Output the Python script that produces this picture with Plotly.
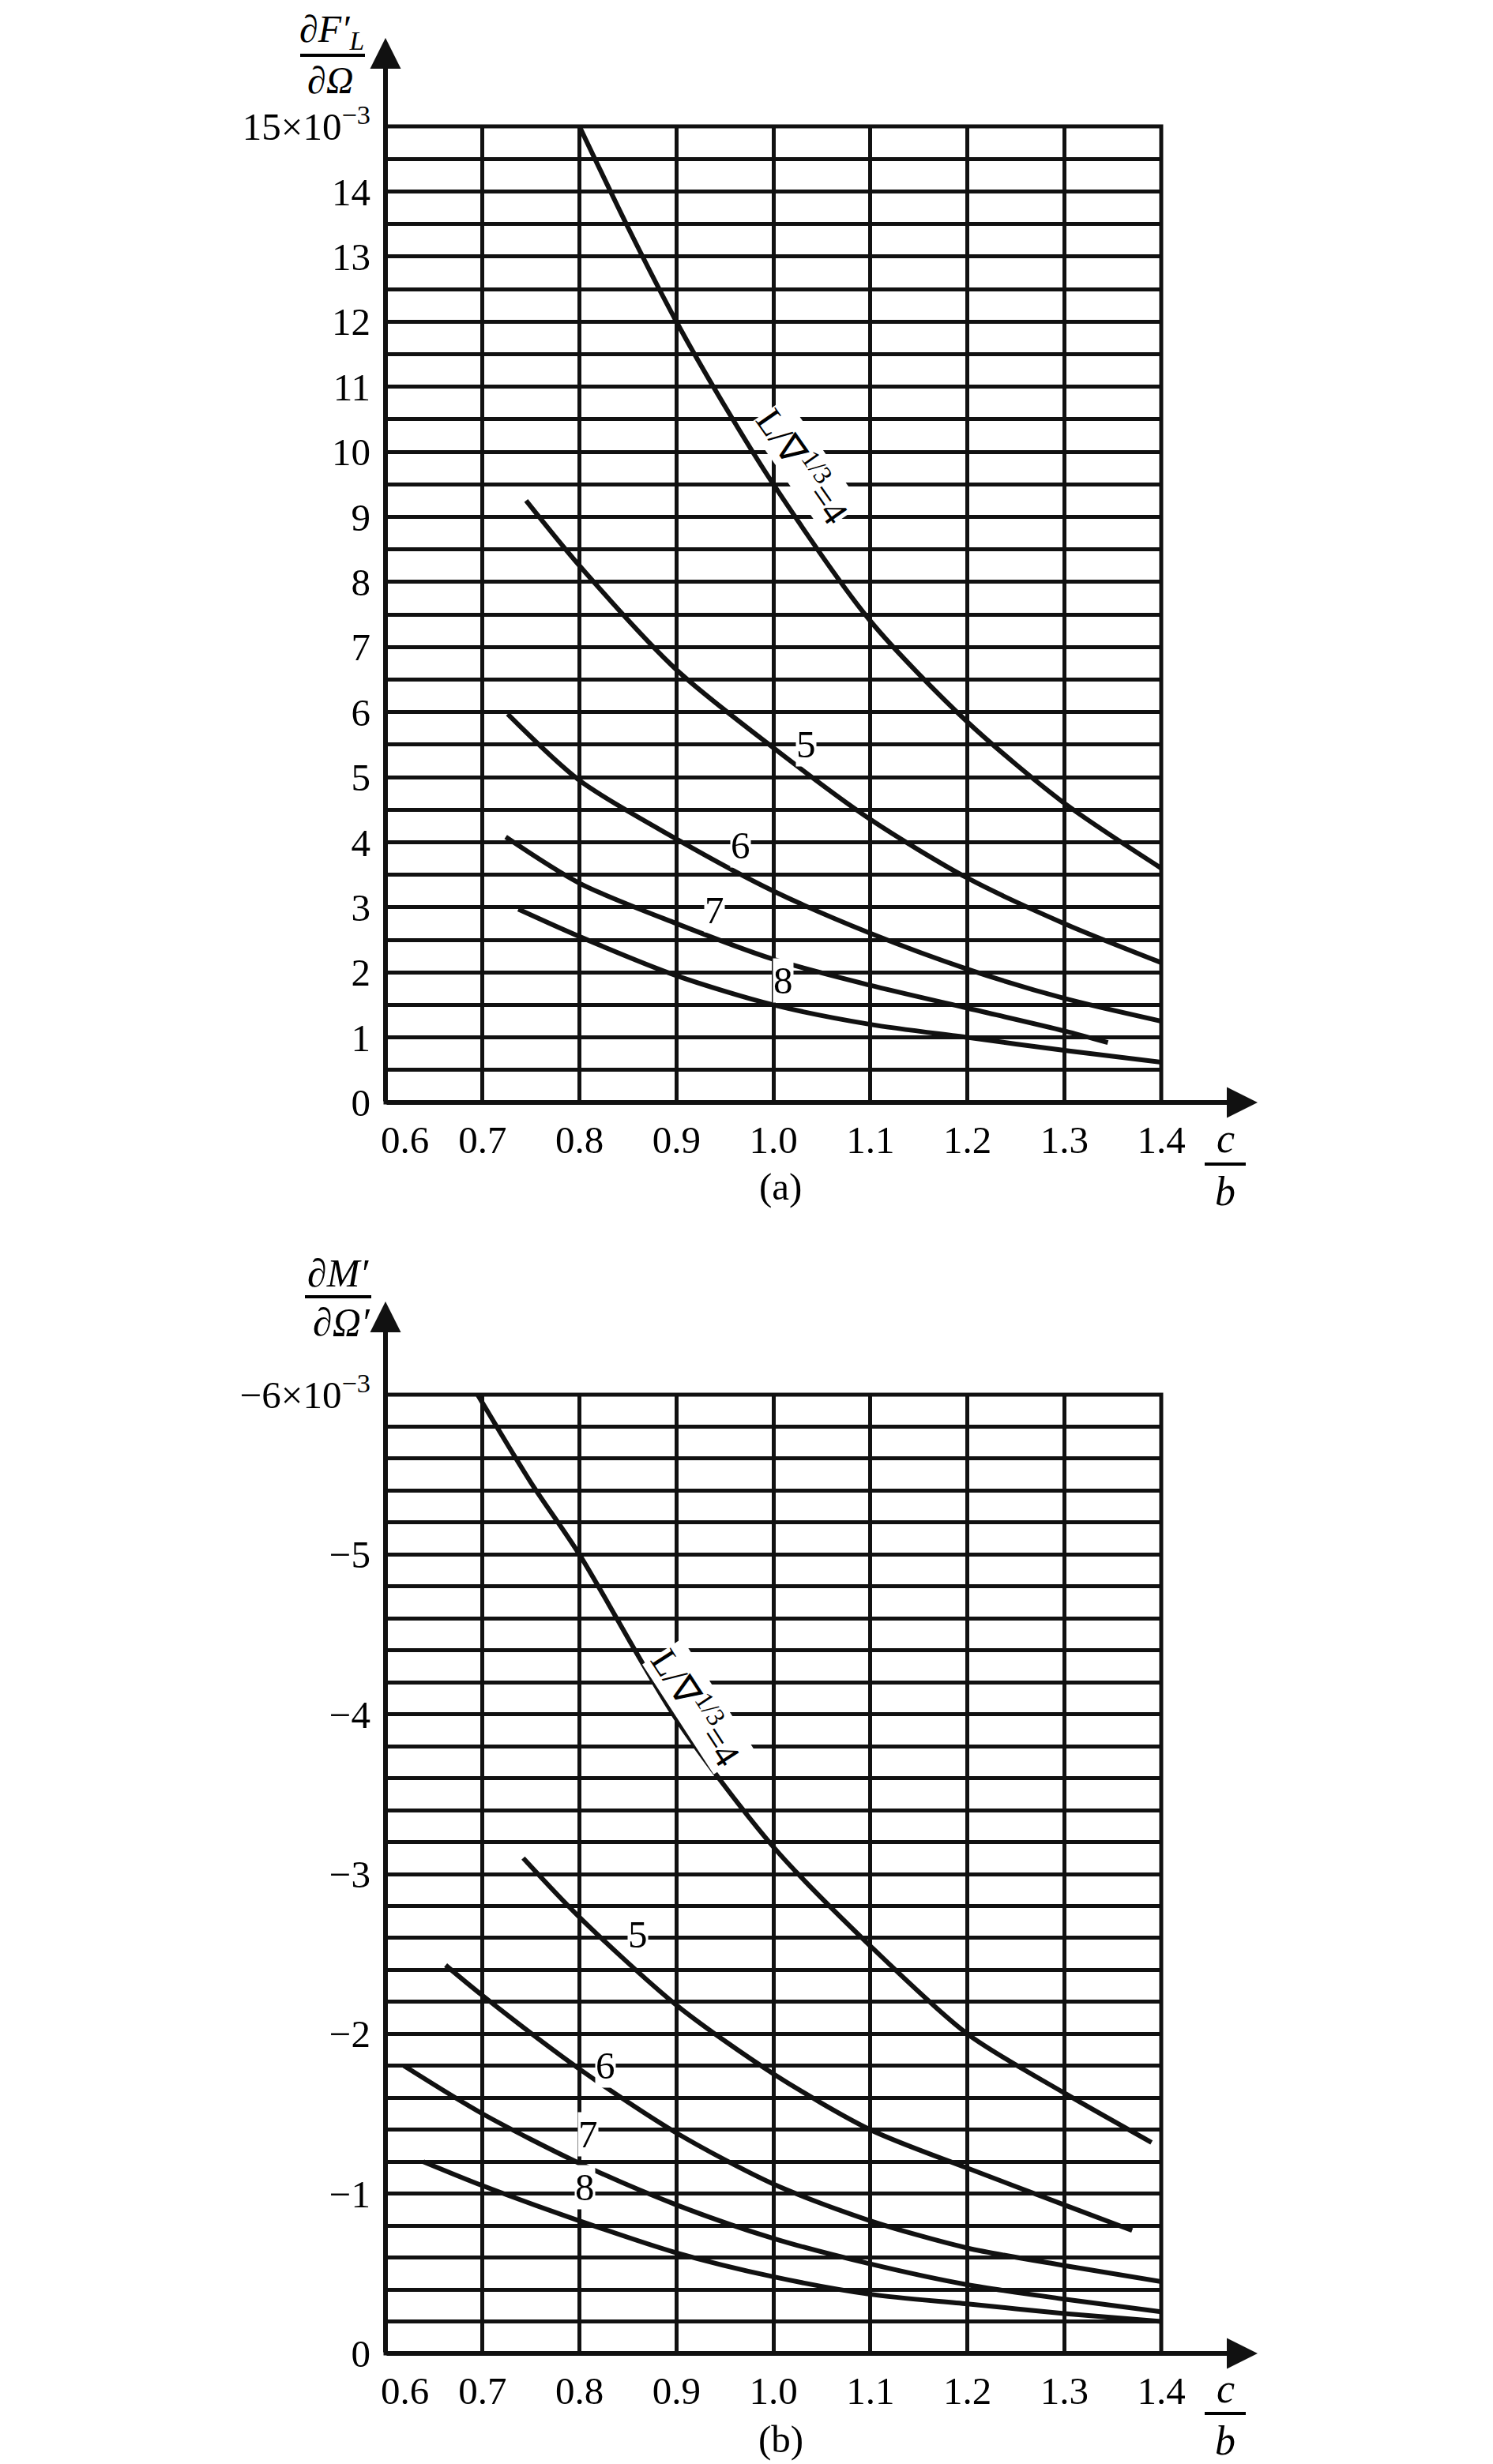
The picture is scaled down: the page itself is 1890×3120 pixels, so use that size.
import plotly.graph_objects as go

# ---------------- data ----------------
x_ticks = [0.6, 0.7, 0.8, 0.9, 1.0, 1.1, 1.2, 1.3, 1.4]
x_ticktext = ["\u2002\u20020.6", "0.7", "0.8", "0.9", "1.0", "1.1", "1.2", "1.3", "1.4"]

a_ticks = [15, 14, 13, 12, 11, 10, 9, 8, 7, 6, 5, 4, 3, 2, 1, 0]
a_ticktext = ["15×10<sup>−3</sup>", "14", "13", "12", "11", "10", "9", "8", "7", "6", "5", "4", "3", "2", "1", "0"]
b_ticks = [-6, -5, -4, -3, -2, -1, 0]
b_ticktext = ["−6×10<sup>−3</sup>", "−5", "−4", "−3", "−2", "−1", "0"]

# panel (a): dF'_L / dOmega
a_x4 = [0.80, 0.85, 0.90, 0.95, 1.00, 1.10, 1.20, 1.30, 1.40]
a_y4 = [15.0, 13.45, 12.0, 10.7, 9.5, 7.4, 5.85, 4.6, 3.6]
a_x5 = [0.745, 0.80, 0.90, 1.00, 1.10, 1.20, 1.30, 1.40]
a_y5 = [9.25, 8.25, 6.65, 5.45, 4.35, 3.45, 2.75, 2.15]
a_x6 = [0.726, 0.80, 0.90, 1.00, 1.10, 1.20, 1.30, 1.40]
a_y6 = [5.97, 4.95, 4.05, 3.25, 2.6, 2.05, 1.6, 1.25]
a_x7 = [0.724, 0.80, 0.90, 1.00, 1.10, 1.20, 1.30, 1.345]
a_y7 = [4.08, 3.37, 2.75, 2.2, 1.8, 1.45, 1.1, 0.92]
a_x8 = [0.737, 0.80, 0.90, 1.00, 1.10, 1.20, 1.30, 1.40]
a_y8 = [2.97, 2.55, 1.95, 1.5, 1.2, 1.0, 0.8, 0.62]

# panel (b): dM' / dOmega'
b_x4 = [0.695, 0.75, 0.80, 0.90, 1.00, 1.10, 1.20, 1.30, 1.39]
b_y4 = [-6.0, -5.45, -5.0, -3.97, -3.17, -2.55, -2.0, -1.63, -1.32]
b_x5 = [0.742, 0.80, 0.90, 1.00, 1.10, 1.20, 1.30, 1.37]
b_y5 = [-3.1, -2.73, -2.18, -1.75, -1.4, -1.16, -0.93, -0.77]
b_x6 = [0.662, 0.70, 0.80, 0.90, 1.00, 1.10, 1.20, 1.30, 1.40]
b_y6 = [-2.43, -2.24, -1.78, -1.38, -1.06, -0.83, -0.66, -0.55, -0.45]
b_x7 = [0.619, 0.70, 0.80, 0.90, 1.00, 1.10, 1.20, 1.30, 1.40]
b_y7 = [-1.8, -1.5, -1.19, -0.93, -0.72, -0.56, -0.43, -0.34, -0.26]
b_x8 = [0.639, 0.70, 0.80, 0.90, 1.00, 1.10, 1.20, 1.30, 1.40]
b_y8 = [-1.2, -1.05, -0.83, -0.63, -0.48, -0.37, -0.31, -0.25, -0.2]

curve_names = ["4", "5", "6", "7", "8"]
a_label_x = [1.032, 1.034, 0.966, 0.939, 1.01]
a_label_y = [9.8, 5.5, 3.95, 2.96, 1.87]
b_label_x = [0.922, 0.86, 0.827, 0.809, 0.806]
b_label_y = [-4.05, -2.62, -1.8, -1.37, -1.04]
big_label = "L/∇<sup>1/3</sup>=4"

# ---------------- layout geometry ----------------
W, H = 1890, 3120
XL, XR = 480, 1462
A_TOP, A_BOT = 152, 1388
B_TOP, B_BOT = 1758, 2972
FONT = "Liberation Serif"
INK = "#111111"

fig = go.Figure()

series_a = [(a_x4, a_y4), (a_x5, a_y5), (a_x6, a_y6), (a_x7, a_y7), (a_x8, a_y8)]
series_b = [(b_x4, b_y4), (b_x5, b_y5), (b_x6, b_y6), (b_x7, b_y7), (b_x8, b_y8)]
for name, (xs, ys) in zip(curve_names, series_a):
    fig.add_trace(go.Scatter(x=xs, y=ys, mode="lines", name=name, xaxis="x", yaxis="y",
                             line=dict(color=INK, width=6, shape="spline", smoothing=0.8),
                             showlegend=False))
for name, (xs, ys) in zip(curve_names, series_b):
    fig.add_trace(go.Scatter(x=xs, y=ys, mode="lines", name=name, xaxis="x2", yaxis="y2",
                             line=dict(color=INK, width=6, shape="spline", smoothing=0.8),
                             showlegend=False))

xdom = [XL / W, XR / W]
ydom_a = [1 - A_BOT / H, 1 - A_TOP / H]
ydom_b = [1 - B_BOT / H, 1 - B_TOP / H]

tickfont = dict(family=FONT, size=49, color="black")
common_x = dict(range=[0.6, 1.4], tickvals=x_ticks, ticktext=x_ticktext, showgrid=True,
                gridcolor=INK, gridwidth=5, zeroline=False, showline=False, ticks="",
                tickfont=tickfont, ticklabelstandoff=14, fixedrange=True, automargin=False)
a_grid = [v / 2 for v in range(0, 31)]
b_grid = [-v / 5 for v in range(0, 31)]
a_text = [a_ticktext[a_ticks.index(v)] if v in a_ticks else "" for v in a_grid]
b_text = [b_ticktext[b_ticks.index(round(v))] if abs(v - round(v)) < 1e-9 else "" for v in b_grid]

fig.update_layout(
    template="none",
    width=W, height=H, margin=dict(l=0, r=0, t=0, b=0, pad=0), autosize=False,
    paper_bgcolor="white", plot_bgcolor="white", showlegend=False,
    xaxis=dict(domain=xdom, anchor="y", **common_x),
    xaxis2=dict(domain=xdom, anchor="y2", **common_x),
    yaxis=dict(domain=ydom_a, anchor="x", range=[0, 15], tickvals=a_grid, ticktext=a_text,
               showgrid=True, gridcolor=INK, gridwidth=5, zeroline=False, showline=False,
               ticks="", tickfont=tickfont, ticklabelstandoff=18, automargin=False, fixedrange=True),
    yaxis2=dict(domain=ydom_b, anchor="x2", range=[0, -6], tickvals=b_grid, ticktext=b_text,
                showgrid=True, gridcolor=INK, gridwidth=5, zeroline=False, showline=False,
                ticks="", tickfont=tickfont, ticklabelstandoff=18, automargin=False, fixedrange=True),
)

shapes = []
annotations = []
for xr, yr in [("x", "y"), ("x2", "y2")]:
    shapes.append(dict(type="rect", xref=xr + " domain", yref=yr + " domain", x0=0, x1=1, y0=0, y1=1,
                       line=dict(color=INK, width=5)))

# axis arrows (decoration)
def axis_arrows(xr, yr, top, bot, tip_y):
    plot_w = XR - XL
    plot_h = bot - top
    x_tip = 1584
    annotations.append(dict(xref=xr + " domain", yref=yr + " domain", x=(x_tip - XL) / plot_w, y=0,
                            ax=-(x_tip - XL), ay=0, showarrow=True, arrowhead=2, arrowsize=1.3,
                            arrowwidth=6, arrowcolor=INK, text="", standoff=0))
    annotations.append(dict(xref=xr + " domain", yref=yr + " domain", x=0, y=(bot - tip_y) / plot_h,
                            ax=0, ay=(bot - tip_y), showarrow=True, arrowhead=2, arrowsize=1.3,
                            arrowwidth=6, arrowcolor=INK, text="", standoff=0))

axis_arrows("x", "y", A_TOP, A_BOT, 40)
axis_arrows("x2", "y2", B_TOP, B_BOT, 1640)

def ptext(px, py, text, size=48, italic=False):
    t = f"<i>{text}</i>" if italic else text
    annotations.append(dict(xref="paper", yref="paper", x=px / W, y=1 - py / H, text=t,
                            showarrow=False, font=dict(family=FONT, size=size, color="black"),
                            xanchor="center", yanchor="middle"))

def pbar(x0, x1, py):
    shapes.append(dict(type="line", xref="paper", yref="paper", x0=x0 / W, x1=x1 / W,
                       y0=1 - py / H, y1=1 - py / H, line=dict(color="black", width=4)))

# y-axis titles (fractions)
ptext(412, 32, "∂F′<sub>L</sub>", 48, True)
pbar(372, 454, 62)
ptext(410, 93, "∂Ω", 48, True)
ptext(420, 1604, "∂M′", 50, True)
pbar(378, 462, 1634)
ptext(424, 1666, "∂Ω′", 50, True)

# x-axis titles c/b and captions
for cy, by, bar_y, cap_y, cap in [(1434, 1500, 1466, 1494, "(a)"), (3016, 3082, 3048, 3080, "(b)")]:
    ptext(1543, cy, "c", 52, True)
    pbar(1517, 1569, bar_y)
    ptext(1543, by, "b", 52, True)
    ptext(980, cap_y, cap, 49)

# curve labels
for i, name in enumerate(curve_names):
    for xr, yr, lx, ly, ang in [("x", "y", a_label_x, a_label_y, 55), ("x2", "y2", b_label_x, b_label_y, 57)]:
        if i == 0:
            annotations.append(dict(xref=xr, yref=yr, x=lx[i], y=ly[i], text=big_label, showarrow=False,
                                    textangle=ang, bgcolor="white", borderpad=0,
                                    font=dict(family=FONT, size=47, color="black")))
        else:
            annotations.append(dict(xref=xr, yref=yr, x=lx[i], y=ly[i], text=name, showarrow=False,
                                    bgcolor="white", borderpad=0,
                                    font=dict(family=FONT, size=49, color="black")))

fig.update_layout(shapes=shapes, annotations=annotations)
fig.write_html("out.html")
